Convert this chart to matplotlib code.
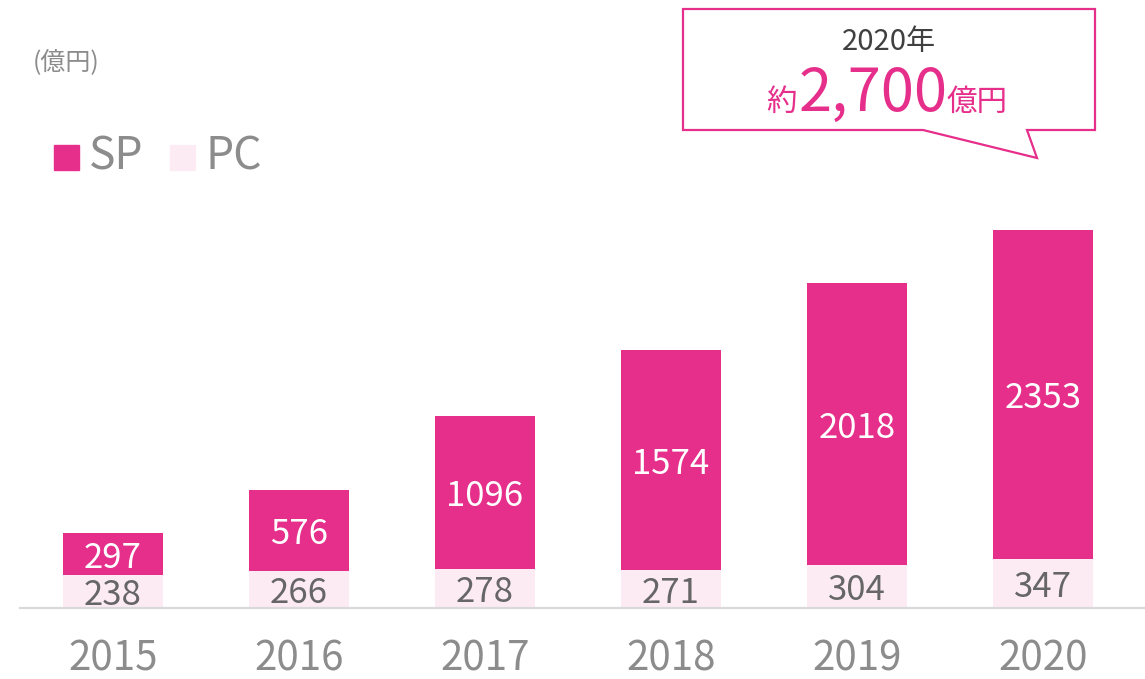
import matplotlib
matplotlib.use("Agg")
import matplotlib.pyplot as plt
from matplotlib.patches import Polygon, Rectangle
import numpy as np

plt.rcParams['font.family'] = ['Noto Sans CJK JP', 'DejaVu Sans']

# データ (億円)
years = ['2015', '2016', '2017', '2018', '2019', '2020']
pc = [238, 266, 278, 271, 304, 347]
sp = [297, 576, 1096, 1574, 2018, 2353]

SP_COLOR = '#E62E8B'
PC_COLOR = '#FCEBF3'
GRAY = '#8C8C8C'

W, H = 1145, 679
fig = plt.figure(figsize=(W / 100, H / 100), dpi=100)

def px(x, y):
    # piksele (od lewego górnego rogu) -> współrzędne figury
    return x / W, 1 - y / H

base_y = 608
ax = fig.add_axes([0, (H - base_y) / H, 1, base_y / H])
step = 186
x0 = 113
ax.set_xlim(-x0 / step, (W - x0) / step)
ax.set_ylim(0, base_y / 0.14)
ax.axis('off')

x = np.arange(len(years))
ax.bar(x, pc, width=0.535, color=PC_COLOR)
ax.bar(x, sp, width=0.535, bottom=pc, color=SP_COLOR)

for i in range(len(years)):
    ax.annotate(str(pc[i]), (x[i], pc[i] / 2), xytext=(0, -3),
                textcoords='offset points', ha='center', va='center',
                fontsize=25, color='#666666')
    ax.annotate(str(sp[i]), (x[i], pc[i] + sp[i] / 2), xytext=(0, -3),
                textcoords='offset points', ha='center', va='center',
                fontsize=25, color='white')
    fig.text(*px(x0 + step * i, 659), years[i], ha='center', va='center',
             fontsize=29, color=GRAY)

# oś pozioma
fig.add_artist(plt.Line2D([20 / W, 1], [px(0, base_y)[1]] * 2,
                          color='#D9D9D9', lw=1.6))

# jednostka
fig.text(*px(33, 63), '(億円)', ha='left', va='center', fontsize=18, color=GRAY)

# legenda
fig.add_artist(Rectangle(px(54, 170), 25 / W, 25 / H, color=SP_COLOR,
                         transform=fig.transFigure))
fig.text(*px(89, 157), 'SP', ha='left', va='center', fontsize=32, color=GRAY)
fig.add_artist(Rectangle(px(170, 170), 25 / W, 25 / H, color=PC_COLOR,
                         transform=fig.transFigure))
fig.text(*px(205, 157), 'PC', ha='left', va='center', fontsize=32, color=GRAY)

# dymek z podsumowaniem
bubble = [(683, 9), (1095, 9), (1095, 130), (1027, 130), (1037, 158),
          (923, 130), (683, 130)]
fig.add_artist(Polygon([px(a, b) for a, b in bubble], closed=True,
                       facecolor='white', edgecolor=SP_COLOR, lw=1.6,
                       transform=fig.transFigure))
fig.text(*px(889, 42), '2020年', ha='center', va='center', fontsize=21,
         color='#404040')
fig.text(*px(797, 111), '約', ha='right', va='baseline', fontsize=22,
         color=SP_COLOR)
fig.text(*px(799, 111), '2,700', ha='left', va='baseline', fontsize=43,
         color=SP_COLOR)
fig.text(*px(946, 111), '億円', ha='left', va='baseline', fontsize=22,
         color=SP_COLOR)

fig.savefig('out.png', dpi=100)
